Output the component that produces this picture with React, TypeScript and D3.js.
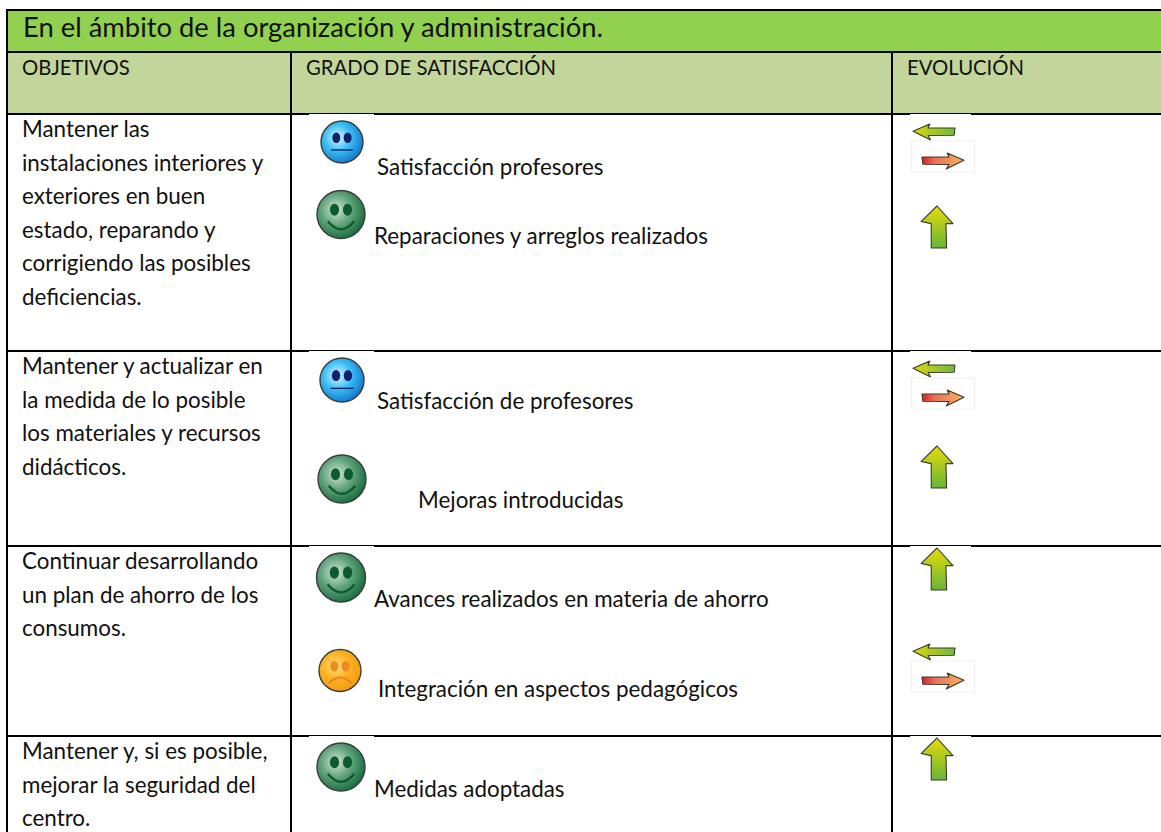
import React, { useEffect, useRef } from "react";
import * as d3 from "d3";

const title = "En el ámbito de la organización y administración.";
const columns = ["OBJETIVOS", "GRADO DE SATISFACCIÓN", "EVOLUCIÓN"];
const objectives = [
  ["Mantener las", "instalaciones interiores y", "exteriores en buen", "estado, reparando y", "corrigiendo las posibles", "deficiencias."],
  ["Mantener y actualizar en", "la medida de lo posible", "los materiales y recursos", "didácticos."],
  ["Continuar desarrollando", "un plan de ahorro de los", "consumos."],
  ["Mantener y, si es posible,", "mejorar la seguridad del", "centro."],
];
const indicators = [
  "Satisfacción profesores",
  "Reparaciones y arreglos realizados",
  "Satisfacción de profesores",
  "Mejoras introducidas",
  "Avances realizados en materia de ahorro",
  "Integración en aspectos pedagógicos",
  "Medidas adoptadas",
];
const moods = ["neutral", "happy", "neutral", "happy", "happy", "sad", "happy"];
const trends = ["flat", "up", "flat", "up", "up", "flat", "up"];

// layout, separate from the table content
const W = 1161;
const H = 832;
const colEdges = [7, 291, 892, 1161];
const rowEdges = [114, 351, 546, 736, 832];
const faceX = [342, 341, 342, 342, 341, 340, 341];
const faceY = [142, 214.5, 380, 479, 577.5, 670.5, 767];
const faceR = [21, 24, 22, 24, 24.5, 21, 24];
const labelX = [377, 374, 377, 418, 374, 378, 374];
const labelY = [175, 244, 409, 508, 607, 697, 797];
const trendY = [124, 206, 361, 446, 548, 644, 738];
const font = "Lato, Carlito, sans-serif";

const moodFill: Record<string, string[]> = {
  neutral: ["#d8f6ff", "#38bdf4", "#1173c9"],
  happy: ["#d4e4d8", "#5fa37a", "#12693a"],
  sad: ["#ffe07a", "#fdb022", "#f49a10"],
};
const moodInk: Record<string, string> = { neutral: "#12206e", happy: "#0d5a2e", sad: "#ee8a22" };

export default function App() {
  const ref = useRef<SVGSVGElement>(null);

  useEffect(() => {
    const svg = d3.select(ref.current);
    svg.selectAll("*").remove();

    const x = d3.scaleOrdinal<number, number>().domain(d3.range(colEdges.length)).range(colEdges);
    const y = d3.scaleOrdinal<number, number>().domain(d3.range(rowEdges.length)).range(rowEdges);

    const defs = svg.append("defs");
    Object.keys(moodFill).forEach((m) => {
      const g = defs.append("radialGradient").attr("id", "face-" + m).attr("cx", "0.4").attr("cy", "0.4").attr("r", "0.65");
      moodFill[m].forEach((c, i) => g.append("stop").attr("offset", i / 2).attr("stop-color", c));
    });
    const up = defs.append("linearGradient").attr("id", "arrow-up").attr("x1", 0).attr("y1", 0).attr("x2", 0).attr("y2", 1);
    up.append("stop").attr("offset", 0).attr("stop-color", "#e6dc08");
    up.append("stop").attr("offset", 1).attr("stop-color", "#68b43a");
    const left = defs.append("linearGradient").attr("id", "arrow-left");
    left.append("stop").attr("offset", 0).attr("stop-color", "#dcd80c");
    left.append("stop").attr("offset", 1).attr("stop-color", "#70b840");
    const right = defs.append("linearGradient").attr("id", "arrow-right");
    right.append("stop").attr("offset", 0).attr("stop-color", "#e01b24");
    right.append("stop").attr("offset", 0.3).attr("stop-color", "#e8705a");
    right.append("stop").attr("offset", 1).attr("stop-color", "#fbb45e");

    // header bands
    svg.append("rect").attr("x", x(0)).attr("y", 10).attr("width", W - x(0)).attr("height", 42).attr("fill", "#92d050");
    svg.append("rect").attr("x", x(0)).attr("y", 52).attr("width", W - x(0)).attr("height", y(0) - 52).attr("fill", "#c2d69b");

    const ink = "#000";
    const hline = (py: number) =>
      svg.append("line").attr("x1", x(0) - 1).attr("x2", W).attr("y1", py).attr("y2", py).attr("stroke", ink).attr("stroke-width", 2);
    [10, 52].forEach(hline);
    rowEdges.slice(0, 4).forEach(hline);
    svg.append("line").attr("x1", x(0)).attr("x2", x(0)).attr("y1", 10).attr("y2", H).attr("stroke", ink).attr("stroke-width", 2);
    [1, 2].forEach((c) =>
      svg.append("line").attr("x1", x(c)).attr("x2", x(c)).attr("y1", 52).attr("y2", H).attr("stroke", ink).attr("stroke-width", 2)
    );

    const text = (s: string, px: number, py: number, size: number) =>
      svg.append("text").attr("x", px).attr("y", py).attr("font-family", font).attr("font-size", size).attr("fill", "#111").text(s);

    text(title, 23, 37, 27.4);
    columns.forEach((c, i) => text(c, x(i) + 15, 75, 20.3));
    objectives.forEach((lines, r) =>
      lines.forEach((l, i) => text(l, x(0) + 15, y(r) + 23 + i * 33.6, 22.4))
    );
    indicators.forEach((s, i) => text(s, labelX[i], labelY[i], 22.4));

    // white image edges cutting the row lines
    rowEdges.slice(0, 4).forEach((e) => {
      svg.append("rect").attr("x", 309).attr("y", e).attr("width", 65).attr("height", 1.2).attr("fill", "#fff");
      svg.append("rect").attr("x", 910).attr("y", e).attr("width", 61).attr("height", 1.2).attr("fill", "#fff");
    });

    // faces
    moods.forEach((m, i) => {
      const g = svg.append("g").attr("transform", `translate(${faceX[i]},${faceY[i]})`);
      const r = faceR[i];
      g.append("circle").attr("r", r).attr("fill", `url(#face-${m})`).attr("stroke", "#3c3c3c").attr("stroke-width", 1.4);
      [-1, 1].forEach((s) =>
        g.append("ellipse")
          .attr("cx", s * r * 0.27).attr("cy", -r * 0.2)
          .attr("rx", r * 0.19).attr("ry", r * 0.25)
          .attr("fill", moodInk[m])
      );
      const mouth = d3.path();
      if (m === "neutral") {
        mouth.moveTo(-r * 0.52, r * 0.38);
        mouth.lineTo(r * 0.52, r * 0.38);
      } else if (m === "happy") {
        mouth.moveTo(-r * 0.55, r * 0.28);
        mouth.quadraticCurveTo(0, r * 0.95, r * 0.55, r * 0.28);
      } else {
        mouth.moveTo(-r * 0.55, r * 0.62);
        mouth.quadraticCurveTo(0, r * 0.05, r * 0.55, r * 0.62);
      }
      g.append("path").attr("d", mouth.toString()).attr("fill", "none")
        .attr("stroke", moodInk[m]).attr("stroke-width", m === "neutral" ? 1.4 : 2.4);
    });

    // trend arrows, drawn from a unit glyph
    const glyph = d3.line<number[]>().curve(d3.curveLinearClosed);
    const upShape = [[0.5, 0], [1, 0.42], [0.78, 0.42], [0.8, 1], [0.32, 1], [0.32, 0.42], [0, 0.37]];
    const leftShape = [[0, 0.45], [0.4, 0], [0.36, 0.25], [1, 0.25], [0.98, 0.7], [0.36, 0.72], [0.42, 1]];
    const drawArrow = (shape: number[][], px: number, py: number, w: number, h: number, fill: string, flip = false) =>
      svg.append("path")
        .attr("d", glyph(shape.map(([a, b]) => [px + (flip ? 1 - a : a) * w, py + b * h])))
        .attr("fill", `url(#${fill})`).attr("stroke", "#3a3a2a").attr("stroke-width", 1.1).attr("stroke-linejoin", "round");

    trends.forEach((t, i) => {
      if (t === "up") {
        drawArrow(upShape, 921, trendY[i], 32, 42, "arrow-up");
      } else {
        drawArrow(leftShape, 913, trendY[i], 42, 16, "arrow-left");
        svg.append("rect").attr("x", 911.5).attr("y", trendY[i] + 17).attr("width", 63).attr("height", 31)
          .attr("fill", "#fff").attr("stroke", "#f0f0f0");
        drawArrow(leftShape, 922, trendY[i] + 29, 42, 16, "arrow-right", true);
      }
    });
  }, []);

  return <svg ref={ref} width={W} height={H} style={{ position: "absolute", left: 0, top: 0, display: "block" }} />;
}
